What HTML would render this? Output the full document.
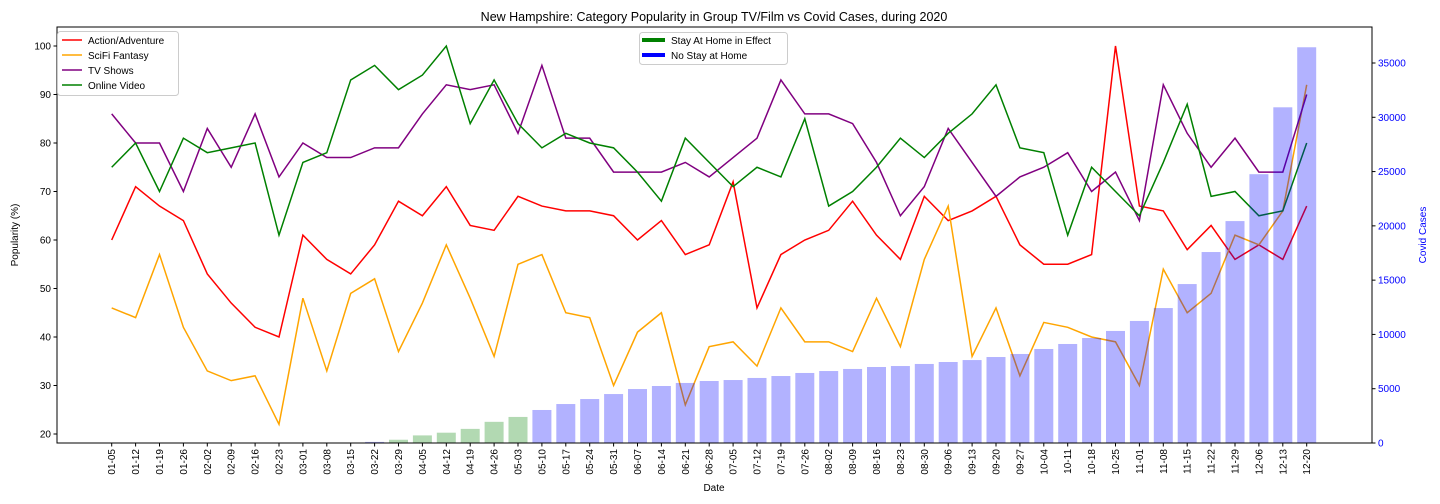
<!DOCTYPE html>
<html><head><meta charset="utf-8"><style>
html,body{margin:0;padding:0;background:#fff;}
svg{display:block;font-family:"Liberation Sans","DejaVu Sans",sans-serif;}
</style></head><body>
<svg id="chart" width="1440" height="504" viewBox="0 0 1440 504">
<text x="714" y="21" text-anchor="middle" font-size="12.5">New Hampshire: Category Popularity in Group TV/Film vs Covid Cases, during 2020</text>
<g id="bars"></g>
<g id="lines"></g>
<g id="axes"></g>
<rect x="57" y="27" width="1315" height="416" fill="none" stroke="#000" stroke-width="1"/>
<text x="714" y="491" text-anchor="middle" font-size="10">Date</text>
<text transform="translate(18,235) rotate(-90)" text-anchor="middle" font-size="10">Popularity (%)</text>
<text transform="translate(1426,235) rotate(-90)" text-anchor="middle" font-size="10" fill="#0000ff">Covid Cases</text>
<g>
<rect x="57.5" y="31.5" width="121" height="64" rx="3" fill="#fff" fill-opacity="0.8" stroke="#ccc"/>
<g><line x1="62" y1="40" x2="82" y2="40" stroke="#ff0000" stroke-width="1.5"/><text x="88" y="44" font-size="10">Action/Adventure</text></g>
<g><line x1="62" y1="55" x2="82" y2="55" stroke="#ffa500" stroke-width="1.5"/><text x="88" y="59" font-size="10">SciFi Fantasy</text></g>
<g><line x1="62" y1="70" x2="82" y2="70" stroke="#800080" stroke-width="1.5"/><text x="88" y="74" font-size="10">TV Shows</text></g>
<g><line x1="62" y1="85" x2="82" y2="85" stroke="#008000" stroke-width="1.5"/><text x="88" y="89" font-size="10">Online Video</text></g>
</g>
<g>
<rect x="639.5" y="32.5" width="148" height="32" rx="3" fill="#fff" fill-opacity="0.8" stroke="#ccc"/>
<g><line x1="642" y1="40" x2="665" y2="40" stroke="#008000" stroke-width="4"/><text x="671" y="44" font-size="10">Stay At Home in Effect</text></g>
<g><line x1="642" y1="55" x2="665" y2="55" stroke="#0000ff" stroke-width="4"/><text x="671" y="59" font-size="10">No Stay at Home</text></g>
</g>
</svg>
<script>
const dates = ["01-05","01-12","01-19","01-26","02-02","02-09","02-16","02-23","03-01","03-08","03-15","03-22","03-29","04-05","04-12","04-19","04-26","05-03","05-10","05-17","05-24","05-31","06-07","06-14","06-21","06-28","07-05","07-12","07-19","07-26","08-02","08-09","08-16","08-23","08-30","09-06","09-13","09-20","09-27","10-04","10-11","10-18","10-25","11-01","11-08","11-15","11-22","11-29","12-06","12-13","12-20"];
const actionVals = [60,71,67,64,53,47,42,40,61,56,53,59,68,65,71,63,62,69,67,66,66,65,60,64,57,59,72,46,57,60,62,68,61,56,69,64,66,69,59,55,55,57,100,67,66,58,63,56,59,56,67];
const scifiVals = [46,44,57,42,33,31,32,22,48,33,49,52,37,47,59,48,36,55,57,45,44,30,41,45,26,38,39,34,46,39,39,37,48,38,56,67,36,46,32,43,42,40,39,30,54,45,49,61,59,66,92];
const tvVals = [86,80,80,70,83,75,86,73,80,77,77,79,79,86,92,91,92,82,96,81,81,74,74,74,76,73,77,81,93,86,86,84,76,65,71,83,76,69,73,75,78,70,74,64,92,82,75,81,74,74,90];
const onlineVals = [75,80,70,81,78,79,80,61,76,78,93,96,91,94,100,84,93,84,79,82,80,79,74,68,81,76,71,75,73,85,67,70,75,81,77,82,86,92,79,78,61,75,70,65,76,88,69,70,65,66,80];
const covidCases = [0,0,0,0,0,0,0,0,0,0,30,100,300,700,950,1300,1950,2400,3040,3590,4050,4510,4970,5250,5530,5710,5800,5990,6170,6450,6630,6820,7000,7090,7280,7460,7640,7920,8200,8660,9120,9670,10320,11240,12430,14640,17590,20440,24760,30920,36450];
const stayHome = [0,0,0,0,0,0,0,0,0,0,0,0,1,1,1,1,1,1,0,0,0,0,0,0,0,0,0,0,0,0,0,0,0,0,0,0,0,0,0,0,0,0,0,0,0,0,0,0,0,0,0];
const leftTicks = [20,30,40,50,60,70,80,90,100];
const rightTicks = [0,5000,10000,15000,20000,25000,30000,35000];

const NS="http://www.w3.org/2000/svg";
const xPos = i => 111.7 + i*23.9;
const yLeft = v => 434 - (v-20)*4.85;
const yRight = v => 443 - v*380/35000;
function mk(tag, attrs, parent){const e=document.createElementNS(NS,tag);for(const k in attrs)e.setAttribute(k,attrs[k]);parent.appendChild(e);return e;}

const axes=document.getElementById('axes');
leftTicks.forEach(t=>{
  const g=mk('g',{},axes);
  
  
  mk('line',{x1:53.5,x2:57,y1:yLeft(t),y2:yLeft(t),stroke:'#000'},g);
  const tx=mk('text',{x:51,y:yLeft(t)+3.5,'text-anchor':'end','font-size':10},g);tx.textContent=t;
});
rightTicks.forEach(t=>{
  const g=mk('g',{},axes);
  
  
  mk('line',{x1:1372,x2:1375.5,y1:yRight(t),y2:yRight(t),stroke:'#000'},g);
  const tx=mk('text',{x:1378,y:yRight(t)+3.5,'font-size':10,fill:'#0000ff'},g);tx.textContent=t;
});
dates.forEach((d,i)=>{
  const g=mk('g',{},axes);
  
  
  mk('line',{x1:xPos(i),x2:xPos(i),y1:443,y2:446.5,stroke:'#000'},g);
  const tx=mk('text',{transform:`translate(${xPos(i)+3.5},449) rotate(-90)`,'text-anchor':'end','font-size':10},g);tx.textContent=d;
});

const bars=document.getElementById('bars');
covidCases.forEach((v,i)=>{
  const r=mk('rect',{x:xPos(i)-9.5,y:yRight(v),width:19,height:443-yRight(v),fill:stayHome[i]?'#008000':'#0000ff','fill-opacity':0.3},bars);
  
  
});

const lines=document.getElementById('lines');
[[actionVals,'#ff0000','action-adventure-line'],[scifiVals,'#ffa500','scifi-fantasy-line'],[tvVals,'#800080','tv-shows-line'],[onlineVals,'#008000','online-video-line']].forEach(([vals,c,n])=>{
  const p=mk('polyline',{points:vals.map((v,i)=>xPos(i)+','+yLeft(v)).join(' '),fill:'none',stroke:c,'stroke-width':1.5},lines);
  
  
});
// bars drawn above lines with transparency, as in reference
document.getElementById('chart').insertBefore(lines,bars);
</script>
</body></html>
